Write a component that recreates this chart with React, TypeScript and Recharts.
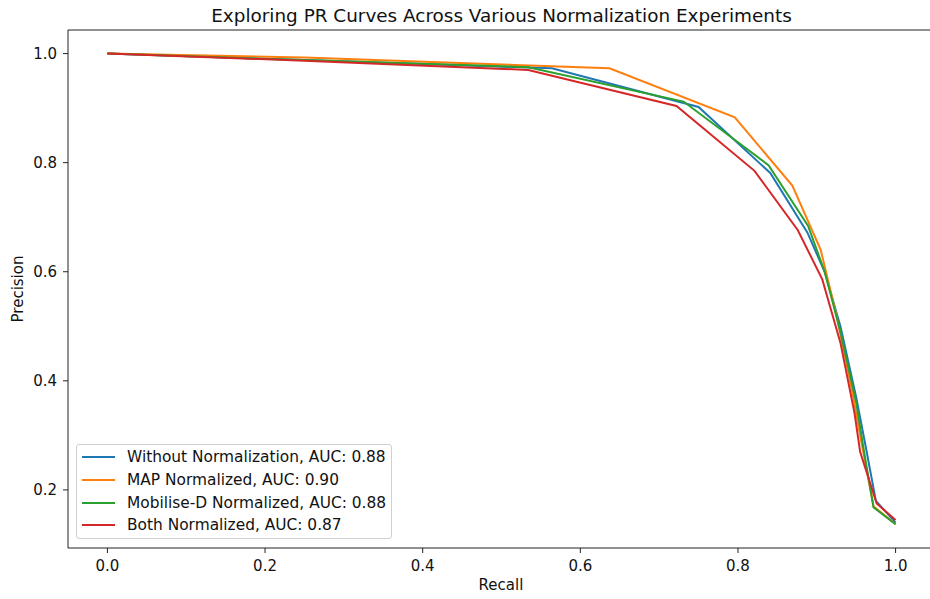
import React from 'react';
import { LineChart, Line, XAxis, YAxis, ReferenceLine } from 'recharts';

const seriesNames = [
  'Without Normalization, AUC: 0.88',
  'MAP Normalized, AUC: 0.90',
  'Mobilise-D Normalized, AUC: 0.88',
  'Both Normalized, AUC: 0.87',
];
const seriesColors = ['#1f77b4', '#ff7f0e', '#2ca02c', '#d62728'];

// recall / precision
const withoutRecall = [0, 0.25, 0.564, 0.75, 0.841, 0.888, 0.91, 0.93, 0.95, 0.962, 0.975, 1.0];
const withoutPrecision = [1.0, 0.988, 0.973, 0.902, 0.781, 0.672, 0.6, 0.5, 0.37, 0.28, 0.18, 0.14];

const mapRecall = [0, 0.25, 0.637, 0.796, 0.869, 0.905, 0.925, 0.945, 0.955, 0.972, 1.0];
const mapPrecision = [1.0, 0.993, 0.973, 0.883, 0.758, 0.64, 0.52, 0.38, 0.3, 0.17, 0.137];

const mobiliseRecall = [0, 0.25, 0.534, 0.731, 0.839, 0.889, 0.91, 0.93, 0.95, 0.96, 0.972, 1.0];
const mobilisePrecision = [1.0, 0.988, 0.975, 0.912, 0.795, 0.684, 0.6, 0.49, 0.36, 0.27, 0.168, 0.137];

const bothRecall = [0, 0.25, 0.534, 0.722, 0.821, 0.876, 0.907, 0.93, 0.948, 0.955, 0.976, 1.0];
const bothPrecision = [1.0, 0.987, 0.97, 0.904, 0.785, 0.676, 0.586, 0.47, 0.34, 0.27, 0.175, 0.145];

const xTicks = [0, 0.2, 0.4, 0.6, 0.8, 1.0];
const yTicks = [0.2, 0.4, 0.6, 0.8, 1.0];

const X_DOMAIN: [number, number] = [-0.05, 1.05];
const Y_DOMAIN: [number, number] = [0.0935, 1.0432];

const zip = (xs: number[], ys: number[]) => xs.map((x, i) => ({ x, y: ys[i] }));

const series = [
  zip(withoutRecall, withoutPrecision),
  zip(mapRecall, mapPrecision),
  zip(mobiliseRecall, mobilisePrecision),
  zip(bothRecall, bothPrecision),
];

const FONT = '"DejaVu Sans", sans-serif';
const AXIS = '#222';

const LegendBox: React.FC = () => (
  <div
    style={{
      position: 'absolute',
      left: 76,
      top: 444,
      width: 314,
      padding: '1px 0',
      border: '1px solid #d0d0d0',
      borderRadius: 3,
      background: 'rgba(255,255,255,0.8)',
      fontFamily: FONT,
      fontSize: 15.4,
      color: '#111',
    }}
  >
    {seriesNames.map((name, i) => (
      <div key={name} style={{ display: 'flex', alignItems: 'center', height: 22.7 }}>
        <span
          style={{
            display: 'inline-block',
            width: 33,
            height: 2,
            marginLeft: 5,
            marginRight: 12,
            background: seriesColors[i],
          }}
        />
        <span style={{ whiteSpace: 'nowrap' }}>{name}</span>
      </div>
    ))}
  </div>
);

const App: React.FC = () => {
  return (
    <div
      style={{
        position: 'absolute',
        left: 0,
        top: 0,
        width: 930,
        height: 599,
        overflow: 'hidden',
        background: '#fff',
        fontFamily: FONT,
      }}
    >
      <div
        style={{
          position: 'absolute',
          left: 68,
          width: 867,
          top: 5,
          textAlign: 'center',
          fontSize: 18.4,
          color: '#111',
          whiteSpace: 'nowrap',
        }}
      >
        Exploring PR Curves Across Various Normalization Experiments
      </div>
      <LineChart
        width={945}
        height={599}
        margin={{ top: 30, right: 10, bottom: 0, left: 0 }}
        style={{ position: 'absolute', left: 0, top: 0 }}
      >
        <XAxis
          type="number"
          dataKey="x"
          domain={X_DOMAIN}
          allowDataOverflow
          ticks={xTicks}
          tickFormatter={(v: number) => v.toFixed(1)}
          height={51}
          tickSize={5}
          tickMargin={7}
          stroke={AXIS}
          tick={{ fill: '#111', fontSize: 15, fontFamily: FONT }}
          label={() => (
            <text x={501} y={590} textAnchor="middle" fontSize={15} fontFamily={FONT} fill="#111">
              Recall
            </text>
          )}
        />
        <YAxis
          type="number"
          domain={Y_DOMAIN}
          allowDataOverflow
          ticks={yTicks}
          tickFormatter={(v: number) => v.toFixed(1)}
          width={68}
          tickSize={5}
          tickMargin={6}
          stroke={AXIS}
          tick={{ fill: '#111', fontSize: 15, fontFamily: FONT }}
          label={() => (
            <text
              x={23}
              y={289}
              transform="rotate(-90 23 289)"
              textAnchor="middle"
              fontSize={15}
              fontFamily={FONT}
              fill="#111"
            >
              Precision
            </text>
          )}
        />
        <ReferenceLine y={Y_DOMAIN[1]} stroke={AXIS} strokeWidth={1} />
        {series.map((pts, i) => (
          <Line
            key={seriesNames[i]}
            data={pts}
            dataKey="y"
            type="linear"
            stroke={seriesColors[i]}
            strokeWidth={2}
            dot={false}
            activeDot={false}
            isAnimationActive={false}
          />
        ))}
      </LineChart>
      <LegendBox />
    </div>
  );
};

export default App;
